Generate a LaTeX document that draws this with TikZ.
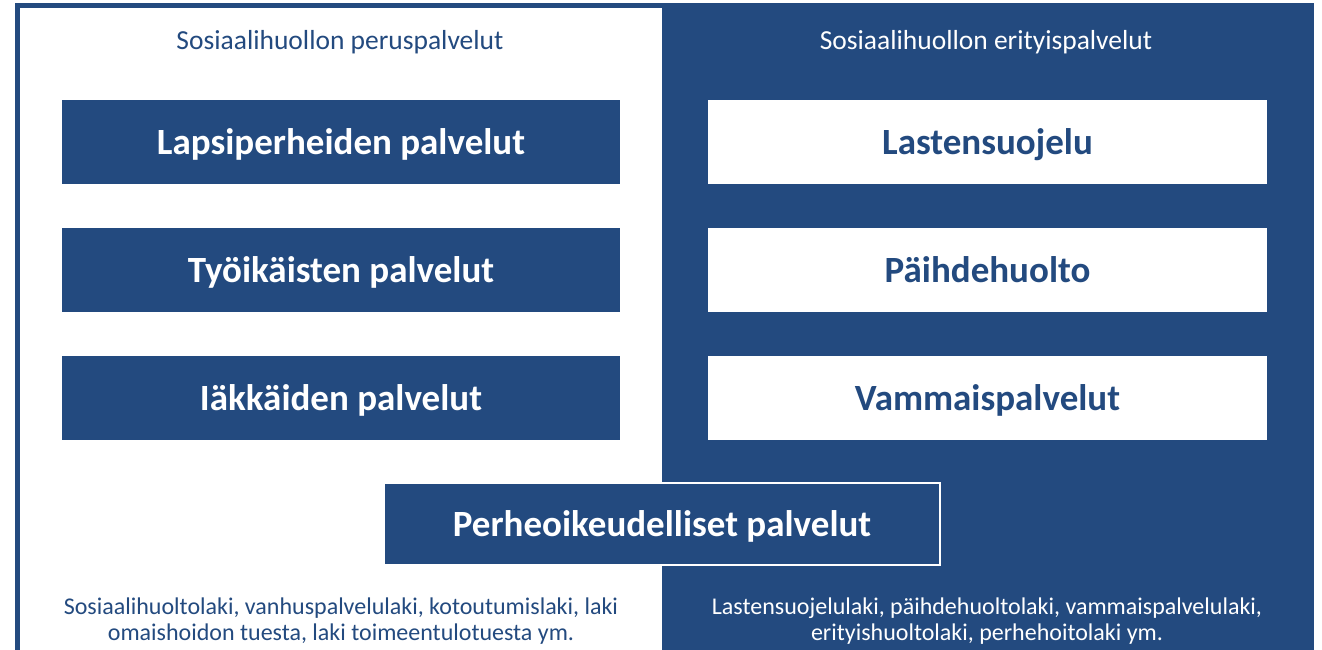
\documentclass[tikz,border=0pt]{standalone}
\usepackage{fontspec}
\setmainfont{Carlito}
\definecolor{sosblue}{RGB}{35,74,127}
\tikzset{
  leftbox/.style={fill=sosblue,text=white,minimum width=558pt,minimum height=84pt,inner sep=0pt,text height=32pt,text depth=7pt,font=\fontsize{37}{42}\selectfont\bfseries},
  rightbox/.style={fill=white,text=sosblue,minimum width=559pt,minimum height=84pt,inner sep=0pt,text height=32pt,text depth=7pt,font=\fontsize{37}{42}\selectfont\bfseries},
  heading/.style={font=\fontsize{27.5}{32}\selectfont},
  lawtext/.style={font=\fontsize{24}{26}\selectfont,align=center}
}
\begin{document}
\begin{tikzpicture}[x=1pt,y=-1pt]
\useasboundingbox (0,0) rectangle (1322,650);
% frame and the two halves
\fill[sosblue] (15,3) rectangle (1314,650);
\fill[white] (20,8) rectangle (662,650);
% headings
\node[heading,text=sosblue] (perus) at (340,42) {Sosiaalihuollon peruspalvelut};
\node[heading,text=white] (erityis) at (986,42) {Sosiaalihuollon erityispalvelut};
% basic services
\node[leftbox] (lapsi) at (341,142) {Lapsiperheiden palvelut};
\node[leftbox] (tyoik) at (341,270) {Työikäisten palvelut};
\node[leftbox] (iakk) at (341,398) {Iäkkäiden palvelut};
% special services
\node[rightbox] (lasten) at (987.5,142) {Lastensuojelu};
\node[rightbox] (paihde) at (987.5,270) {Päihdehuolto};
\node[rightbox] (vammais) at (987.5,398) {Vammaispalvelut};
% shared
\node[leftbox,draw=white,line width=2pt,minimum width=556pt,minimum height=82pt] (perhe) at (662,523.5) {Perheoikeudelliset palvelut};
% laws
\node[lawtext,text=sosblue] (lakiL) at (341,621) {Sosiaalihuoltolaki, vanhuspalvelulaki, kotoutumislaki, laki\\omaishoidon tuesta, laki toimeentulotuesta ym.};
\node[lawtext,text=white] (lakiR) at (987,621) {Lastensuojelulaki, päihdehuoltolaki, vammaispalvelulaki,\\erityishuoltolaki, perhehoitolaki ym.};
\end{tikzpicture}
\end{document}
